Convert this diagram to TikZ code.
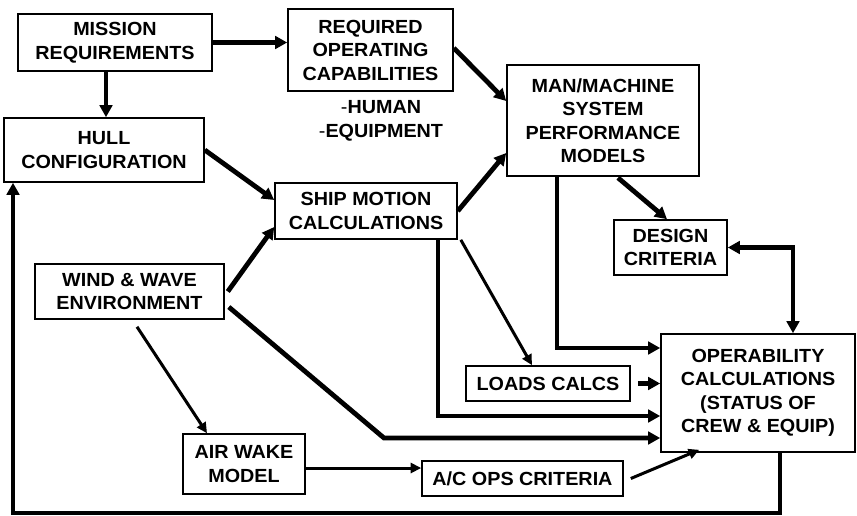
\documentclass[tikz,border=0pt]{standalone}
\usepackage{fontspec}
\setmainfont{Liberation Sans}[FakeStretch=1.04]
\usetikzlibrary{arrows.meta,calc}
\begin{document}
\begin{tikzpicture}[x=1pt,y=-1pt,
  box/.style={draw, line width=1.6pt, rectangle, align=center, inner sep=2pt,
    font=\fontsize{19}{23.5}\selectfont\bfseries},
  thickarr/.style={line width=4.8pt, -{Triangle[length=12pt,width=12.5pt]}},
  thinarr/.style={line width=3pt, -{Triangle[length=10.5pt,width=10pt]}},
  botharr/.style={line width=4.8pt, {Triangle[length=12pt,width=12.5pt]}-{Triangle[length=12pt,width=12.5pt]}},
]
\fill[white] (0,0) rectangle (857,515);
\useasboundingbox (0,0) rectangle (857,515);

\node[box, minimum width=194pt, minimum height=57pt] (mission) at (115,42.5) {MISSION\\REQUIREMENTS};
\node[box, minimum width=165pt, minimum height=82pt] (required) at (370.5,50) {REQUIRED\\OPERATING\\CAPABILITIES};
\node[font=\fontsize{19}{23.5}\selectfont\bfseries, align=center, inner sep=0pt] (caps) at (381,121) {{\mdseries-}HUMAN\\{\mdseries-}EQUIPMENT};
\node[box, minimum width=200pt, minimum height=64pt] (hull) at (104,150) {HULL\\CONFIGURATION};
\node[box, minimum width=182pt, minimum height=56pt] (ship) at (366,211) {SHIP MOTION\\CALCULATIONS};
\node[box, minimum width=192pt, minimum height=111pt] (man) at (603,120.5) {MAN/MACHINE\\SYSTEM\\PERFORMANCE\\MODELS};
\node[box, minimum width=113pt, minimum height=55pt] (design) at (670.5,247.5) {DESIGN\\CRITERIA};
\node[box, minimum width=189pt, minimum height=55pt] (wind) at (129.5,291.5) {WIND \& WAVE\\ENVIRONMENT};
\node[box, minimum width=122pt, minimum height=60pt] (air) at (244,464) {AIR WAKE\\MODEL};
\node[box, minimum width=201pt, minimum height=35pt] (acops) at (522.5,478.5) {A/C OPS CRITERIA};
\node[box, minimum width=164pt, minimum height=35pt] (loads) at (548,383.5) {LOADS CALCS};
\node[box, minimum width=194pt, minimum height=118pt] (oper) at (758,393) {OPERABILITY\\CALCULATIONS\\(STATUS OF\\CREW \& EQUIP)};

\draw[thickarr] (mission.east) -- (mission.east -| required.west);
\draw[thickarr] ([xshift=-9pt]mission.south) -- ([xshift=-9pt]mission.south |- hull.north);
\draw[thickarr] ([yshift=2pt]required.east) -- ([yshift=19.5pt]man.west);
\draw[thickarr] (hull.east) -- ([yshift=11pt]ship.west);
\draw[thickarr] ([xshift=3pt]wind.east) -- ([yshift=-16pt]ship.west);
\draw[thickarr] (ship.east) -- ([yshift=-32.5pt]man.west);
\draw[thickarr] ([xshift=15pt,yshift=-1pt]man.south) -- ([xshift=-3.5pt]design.north);
\draw[botharr] (design.east) -| ([xshift=35pt]oper.north);
\draw[thickarr] ([xshift=-46pt]man.south) |- ([yshift=45pt]oper.west);
\draw[thinarr] ([xshift=3pt]ship.south east) -- ([xshift=-16pt]loads.north);
\draw[thickarr] ([xshift=72pt]ship.south) |- ([yshift=-23pt]oper.west);
\draw[thickarr] ([xshift=7pt]loads.east) -- (loads.east -| oper.west);
\coordinate (wk) at (384,438);
\draw[thickarr] ([xshift=4pt,yshift=-15.5pt]wind.east) -- (wk) -- (wk -| oper.west);
\draw[thinarr] ([xshift=7.5pt,yshift=-7pt]wind.south) -- ([xshift=-37pt]air.north);
\draw[thinarr] ([yshift=-4pt]air.east) -- ([yshift=-4pt]air.east -| acops.west);
\draw[thinarr] ([xshift=7pt]acops.east) -- ([xshift=39pt,yshift=3pt]oper.south west);
\coordinate (fb) at (13,513);
\draw[thickarr] ([xshift=22pt]oper.south) |- (fb) -- (fb |- hull.south);
\end{tikzpicture}
\end{document}
